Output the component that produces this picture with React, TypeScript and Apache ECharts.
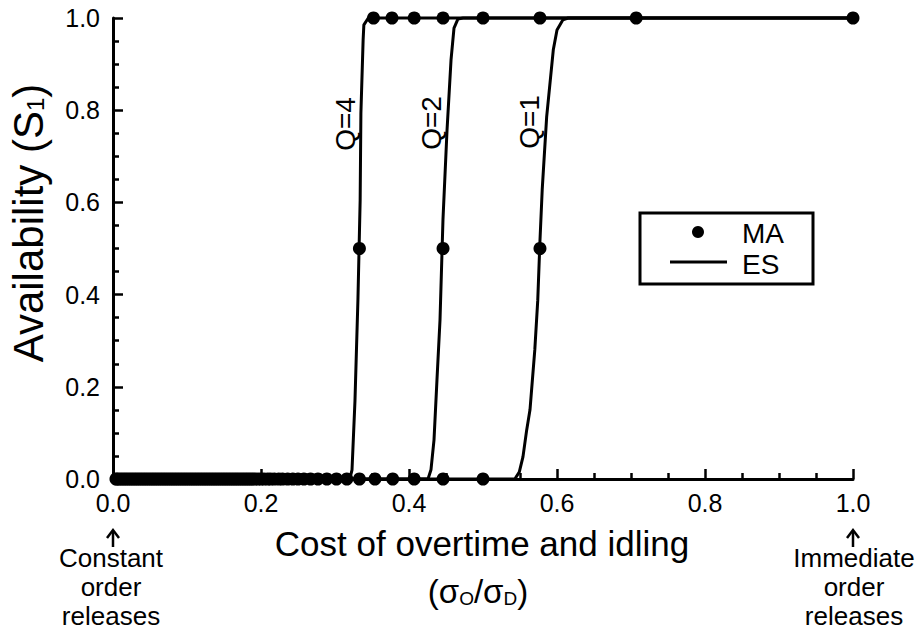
import { useEffect, useRef } from 'react';
import * as echarts from 'echarts';

// ES (exact solution) curves: [cost ratio, availability]
const esQ4: number[][] = [[0, 0], [0.32, 0], [0.323, 0.02], [0.327, 0.17], [0.331, 0.39], [0.334, 0.605], [0.335, 0.794], [0.338, 0.952], [0.339, 0.985], [0.345, 1], [1, 1]];
const esQ2: number[][] = [[0, 0], [0.4257, 0], [0.4297, 0.02], [0.4338, 0.085], [0.4378, 0.215], [0.4419, 0.345], [0.4459, 0.562], [0.4514, 0.757], [0.4568, 0.909], [0.4608, 0.978], [0.4662, 0.998], [0.473, 1], [1, 1]];
const esQ1: number[][] = [[0, 0], [0.543, 0], [0.549, 0.015], [0.554, 0.048], [0.559, 0.106], [0.5635, 0.15], [0.57, 0.28], [0.574, 0.388], [0.577, 0.518], [0.58, 0.627], [0.586, 0.785], [0.595, 0.931], [0.6, 0.974], [0.608, 0.996], [0.615, 1], [1, 1]];

// MA points (cost ratios), grouped by availability level
const maAtOne: number[] = [0.352, 0.377, 0.407, 0.446, 0.5, 0.577, 0.707, 1.0];
const maAtHalf: number[] = [0.333, 0.446, 0.577];
const maAtZero: number[] = [
  0.5, 0.446, 0.407, 0.378, 0.354, 0.333, 0.316, 0.302, 0.289, 0.277, 0.267, 0.258, 0.25, 0.243, 0.236,
  0.229, 0.224, 0.218, 0.213, 0.209, 0.204, 0.2, 0.196, 0.192, 0.189, 0.186, 0.183, 0.18, 0.177, 0.174,
  0.171, 0.168, 0.165, 0.162, 0.159, 0.156, 0.153, 0.15, 0.147, 0.144, 0.141, 0.138, 0.135, 0.132, 0.129,
  0.126, 0.123, 0.12, 0.117, 0.114, 0.111, 0.108, 0.105, 0.102, 0.099, 0.096, 0.093, 0.09, 0.087, 0.084,
  0.081, 0.078, 0.075, 0.072, 0.069, 0.066, 0.063, 0.06, 0.057, 0.054, 0.051, 0.048, 0.045, 0.042, 0.039,
  0.036, 0.033, 0.03, 0.027, 0.024, 0.021, 0.018, 0.015, 0.012, 0.009, 0.006, 0.004,
];

const curveLabels = [
  { text: 'Q=4', x: 345, y: 124 },
  { text: 'Q=2', x: 431, y: 123 },
  { text: 'Q=1', x: 529, y: 122 },
];

const FONT = '"Liberation Sans", Arial, Helvetica, sans-serif';

export default function App() {
  const ref = useRef<HTMLDivElement>(null);
  useEffect(() => {
    document.body.style.margin = '0';
    const chart = echarts.init(ref.current!, null, { renderer: 'svg' });
    const maData = [
      ...maAtZero.map((x) => [x, 0]),
      ...maAtHalf.map((x) => [x, 0.5]),
      ...maAtOne.map((x) => [x, 1]),
    ];
    const lineSeries = (name: string, data: number[][]) => ({
      name,
      type: 'line',
      data,
      showSymbol: false,
      symbol: 'none',
      clip: false,
      lineStyle: { color: '#000', width: 3 },
      z: 3,
    });
    const axisCommon = {
      type: 'value',
      min: 0,
      max: 1,
      interval: 0.2,
      axisLine: { show: true, lineStyle: { color: '#000', width: 3 } },
      axisTick: { show: true, inside: true, length: 10, lineStyle: { color: '#000', width: 2.5 } },
      minorTick: { show: true, splitNumber: 4, length: 6, lineStyle: { color: '#000', width: 2.5 } },
      splitLine: { show: false },
      axisLabel: {
        color: '#000',
        fontSize: 25,
        fontFamily: FONT,
        formatter: (v: number) => v.toFixed(1),
      },
    };
    chart.setOption({
      animation: false,
      backgroundColor: '#fff',
      grid: { left: 113, right: 64, top: 18, bottom: 153 },
      xAxis: { ...axisCommon, axisLabel: { ...axisCommon.axisLabel, margin: 11 } },
      yAxis: { ...axisCommon, axisLabel: { ...axisCommon.axisLabel, margin: 13, padding: [8, 0, 0, 0] } },
      series: [
        lineSeries('ES Q=4', esQ4),
        lineSeries('ES Q=2', esQ2),
        lineSeries('ES Q=1', esQ1),
        {
          name: 'MA',
          type: 'scatter',
          data: maData,
          symbol: 'circle',
          symbolSize: 13,
          clip: false,
          itemStyle: { color: '#000', opacity: 1 },
          z: 4,
        },
      ],
      graphic: [
        // y-axis title
        {
          type: 'text',
          x: 28,
          y: 223,
          rotation: Math.PI / 2,
          style: {
            text: '{a|Availability (S}{s|1}{a|)}',
            align: 'center',
            verticalAlign: 'middle',
            fill: '#000',
            rich: {
              a: { fontSize: 42, fontFamily: FONT, fill: '#000' },
              s: { fontSize: 24, fontFamily: FONT, fill: '#000', padding: [15, 0, 0, 0] },
            },
          },
        },
        // x-axis title
        {
          type: 'text',
          x: 482,
          y: 543,
          style: { text: 'Cost of overtime and idling', fontSize: 35, fontFamily: FONT, fill: '#000', align: 'center', verticalAlign: 'middle' },
        },
        {
          type: 'text',
          x: 478,
          y: 591,
          style: {
            text: '{a|(σ}{s|O}{a|/σ}{s|D}{a|)}',
            align: 'center',
            verticalAlign: 'middle',
            rich: {
              a: { fontSize: 33, fontFamily: FONT, fill: '#000' },
              s: { fontSize: 19, fontFamily: FONT, fill: '#000', padding: [14, 0, 0, 0] },
            },
          },
        },
        // left/right end notes with arrows
        ...[113, 853].flatMap((cx) => [
          { type: 'line', shape: { x1: cx, y1: 547, x2: cx, y2: 531 }, style: { stroke: '#000', lineWidth: 2.5 } },
          { type: 'polyline', shape: { points: [[cx - 6, 538], [cx, 530], [cx + 6, 538]] }, style: { stroke: '#000', lineWidth: 2.5, fill: 'none' } },
        ]),
        {
          type: 'text',
          x: 111,
          y: 587,
          style: { text: 'Constant\norder\nreleases', fontSize: 26, lineHeight: 29, fontFamily: FONT, fill: '#000', align: 'center', verticalAlign: 'middle' },
        },
        {
          type: 'text',
          x: 854,
          y: 587,
          style: { text: 'Immediate\norder\nreleases', fontSize: 26, lineHeight: 29, fontFamily: FONT, fill: '#000', align: 'center', verticalAlign: 'middle' },
        },
        // curve labels
        ...curveLabels.map((c) => ({
          type: 'text',
          x: c.x,
          y: c.y,
          rotation: Math.PI / 2,
          style: { text: c.text, fontSize: 28, fontFamily: FONT, fill: '#000', align: 'center', verticalAlign: 'middle' },
        })),
        // legend
        { type: 'rect', shape: { x: 640, y: 213, width: 173, height: 71 }, style: { fill: '#fff', stroke: '#000', lineWidth: 3 }, z: 10 },
        { type: 'circle', shape: { cx: 698, cy: 232, r: 6 }, style: { fill: '#000' }, z: 11 },
        { type: 'line', shape: { x1: 670, y1: 262, x2: 727, y2: 262 }, style: { stroke: '#000', lineWidth: 3 }, z: 11 },
        { type: 'text', x: 742, y: 233, style: { text: 'MA', fontSize: 28, fontFamily: FONT, fill: '#000', verticalAlign: 'middle' }, z: 11 },
        { type: 'text', x: 742, y: 264, style: { text: 'ES', fontSize: 28, fontFamily: FONT, fill: '#000', verticalAlign: 'middle' }, z: 11 },
      ],
    });
    return () => chart.dispose();
  }, []);
  return <div ref={ref} style={{ width: 917, height: 632 }} />;
}
